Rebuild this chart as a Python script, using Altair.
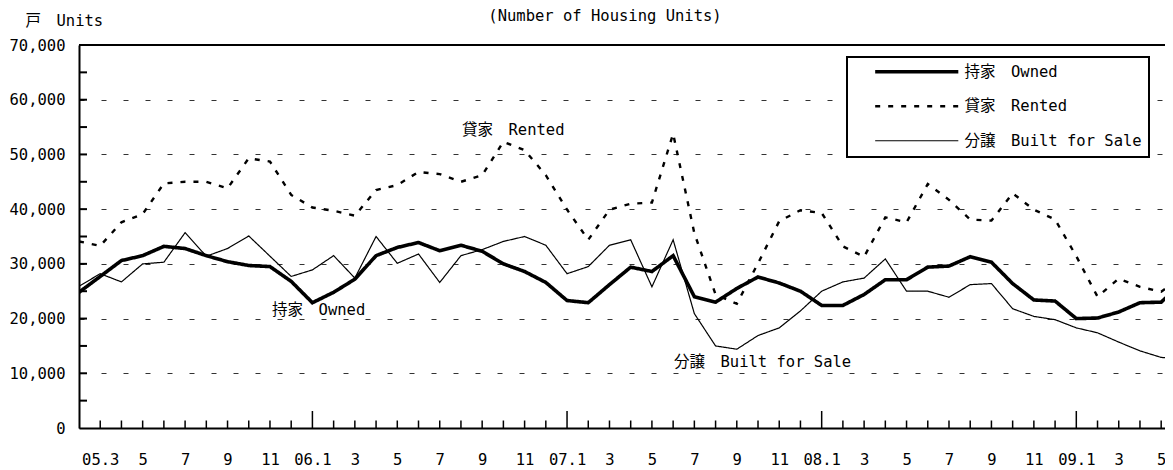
import altair as alt
import pandas as pd
import json

# ---- data (thousands of units), monthly from 2005.2 (index 0) to 2009.6 (index 52)
owned = [24.8, 27.7, 30.6, 31.5, 33.2, 32.8, 31.5, 30.4, 29.7, 29.5,
         26.8, 22.9, 24.8, 27.2, 31.5, 33.0, 33.9, 32.4, 33.4, 32.3,
         30.0, 28.6, 26.6, 23.3, 22.9, 26.2, 29.4, 28.6, 31.5, 24.0,
         23.0, 25.5, 27.6, 26.5, 25.0, 22.4, 22.4, 24.4, 27.1, 27.1,
         29.4, 29.6, 31.3, 30.3, 26.4, 23.4, 23.2, 20.0, 20.1, 21.2,
         22.9, 23.0, 26.6]
rented = [34.1, 33.3, 37.6, 39.1, 44.7, 45.0, 45.0, 43.8, 49.3, 48.7,
          42.6, 40.3, 39.7, 38.8, 43.5, 44.4, 46.8, 46.4, 45.0, 46.2,
          52.3, 50.8, 46.2, 39.9, 34.4, 39.9, 41.0, 41.2, 53.8, 35.6,
          24.4, 22.7, 30.1, 37.8, 39.8, 39.3, 33.2, 31.3, 38.5, 37.6,
          44.6, 41.7, 38.1, 37.9, 42.9, 39.9, 38.1, 31.4, 24.0, 27.3,
          25.8, 24.9, 27.8]
built = [25.9, 28.2, 26.7, 30.0, 30.3, 35.7, 31.4, 32.8, 35.1, 31.4,
         27.7, 28.9, 31.5, 27.4, 35.0, 30.1, 31.8, 26.6, 31.5, 32.6,
         34.1, 35.0, 33.4, 28.2, 29.5, 33.4, 34.4, 25.8, 34.4, 20.9,
         15.0, 14.4, 16.9, 18.3, 21.4, 25.0, 26.7, 27.4, 30.9, 25.0,
         25.0, 23.9, 26.2, 26.4, 21.8, 20.4, 19.8, 18.3, 17.4, 15.7,
         14.1, 12.9, 12.6]

series_names = ["持家　Owned", "貸家　Rented", "分譲　Built for Sale"]

x_label_text = ["05.3", "5", "7", "9", "11", "06.1", "3", "5", "7", "9", "11",
                "07.1", "3", "5", "7", "9", "11", "08.1", "3", "5", "7", "9", "11",
                "09.1", "3", "5"]
x_label_pos = [1 + 2 * k for k in range(len(x_label_text))]
major_ticks = [11, 23, 35, 47]
minor_ticks = [i for i in range(1, 52) if i not in major_ticks]
y_label_values = [0, 10000, 20000, 30000, 40000, 50000, 60000, 70000]
y_tick_values = [5000 * k for k in range(1, 14)]

annot_text = ["貸家　Rented", "持家　Owned", "分譲　Built for Sale"]
annot_x = [18.05, 9.1, 28.04]
annot_y = [54500, 21600, 12100]

FONT = "DejaVu Sans Mono, Noto Sans CJK JP"
FS = 15.5
W, H = 1086, 383

rows = []
for name, vals in zip(series_names, [owned, rented, built]):
    for i, v in enumerate(vals):
        rows.append({"i": i, "value": v * 1000, "series": name})
df = pd.DataFrame(rows)

xscale = alt.Scale(domain=[0, 51.18], nice=False, zero=False)
yscale = alt.Scale(domain=[0, 70000], nice=False, zero=True)

label_expr = json.dumps(x_label_text) + "[(datum.value - 1) / 2]"

xaxis = alt.Axis(values=x_label_pos, labelExpr=label_expr, title=None,
                 ticks=False, grid=False, domainColor="black", domainWidth=2,
                 labelFont=FONT, labelFontSize=FS, labelColor="black",
                 labelPadding=24, labelOverlap=False, labelFlush=False,
                 labelBound=False)
yaxis = alt.Axis(values=y_label_values, format=",d", title="戸　Units",
                 titleAngle=0, titleX=-54, titleY=-25, titleAlign="left",
                 titleBaseline="middle", titleFont=FONT, titleFontSize=FS,
                 titleFontWeight="normal", titleColor="black",
                 ticks=False, grid=True, gridColor="#333333", gridWidth=1,
                 gridDash=[5, 17], domainColor="black", domainWidth=2,
                 labelFont=FONT, labelFontSize=FS, labelColor="black",
                 labelPadding=14)

legend = alt.Legend(
    title=None, orient="none", legendX=768, legendY=12,
    strokeColor="black", fillColor="white", padding=7,
    symbolType="M-8,0H8", symbolSize=108, symbolOffset=55,
    symbolStrokeColor="black", labelOffset=40,
    labelFont=FONT, labelFontSize=FS, labelColor="black", labelLimit=400,
    rowPadding=17.5,
)

lines = alt.Chart(df).mark_line(color="black", clip=True).encode(
    x=alt.X("i:Q", scale=xscale, axis=xaxis),
    y=alt.Y("value:Q", scale=yscale, axis=yaxis),
    strokeDash=alt.StrokeDash("series:N",
                              scale=alt.Scale(domain=series_names,
                                              range=[[1, 0], [5, 8], [1, 0]]),
                              legend=legend),
    strokeWidth=alt.StrokeWidth("series:N",
                                scale=alt.Scale(domain=series_names,
                                                range=[3.6, 1.2]),
                                legend=legend),
    detail="series:N",
)

minor = alt.Chart(pd.DataFrame({"i": minor_ticks})).mark_rule(
    color="black", strokeWidth=1.5).encode(
    x=alt.X("i:Q", scale=xscale, axis=xaxis),
    y=alt.value(H), y2=alt.value(H - 7.5))

major = alt.Chart(pd.DataFrame({"i": major_ticks})).mark_rule(
    color="black", strokeWidth=1.5).encode(
    x=alt.X("i:Q", scale=xscale, axis=xaxis),
    y=alt.value(H), y2=alt.value(H - 17))

yticks = alt.Chart(pd.DataFrame({"value": y_tick_values})).mark_rule(
    color="black", strokeWidth=2).encode(
    y=alt.Y("value:Q", scale=yscale, axis=yaxis),
    x=alt.value(0), x2=alt.value(8))

top = alt.Chart(pd.DataFrame({"value": [70000]})).mark_rule(
    color="black", strokeWidth=2).encode(
    y=alt.Y("value:Q", scale=yscale, axis=yaxis),
    x=alt.value(0), x2=alt.value(W))

annot = alt.Chart(pd.DataFrame({"t": annot_text, "i": annot_x, "value": annot_y})).mark_text(
    font=FONT, fontSize=FS, color="black", align="left", baseline="middle").encode(
    x=alt.X("i:Q", scale=xscale, axis=xaxis),
    y=alt.Y("value:Q", scale=yscale, axis=yaxis),
    text="t:N")

title = alt.Chart(pd.DataFrame({"t": ["(Number of Housing Units)"]})).mark_text(
    font=FONT, fontSize=FS, color="black", align="center", baseline="top").encode(
    x=alt.value(526), y=alt.value(-36), text="t:N")

chart = alt.layer(lines, minor, major, yticks, top, annot, title).properties(
    width=W, height=H,
    padding={"left": 71, "top": 37, "right": 0, "bottom": 40},
    autosize=alt.AutoSizeParams(type="none"),
).configure_view(stroke=None).configure(background="white").configure_legend(
    strokeWidth=2)

chart.save("out.html", embed_options={"renderer": "svg", "actions": False})
